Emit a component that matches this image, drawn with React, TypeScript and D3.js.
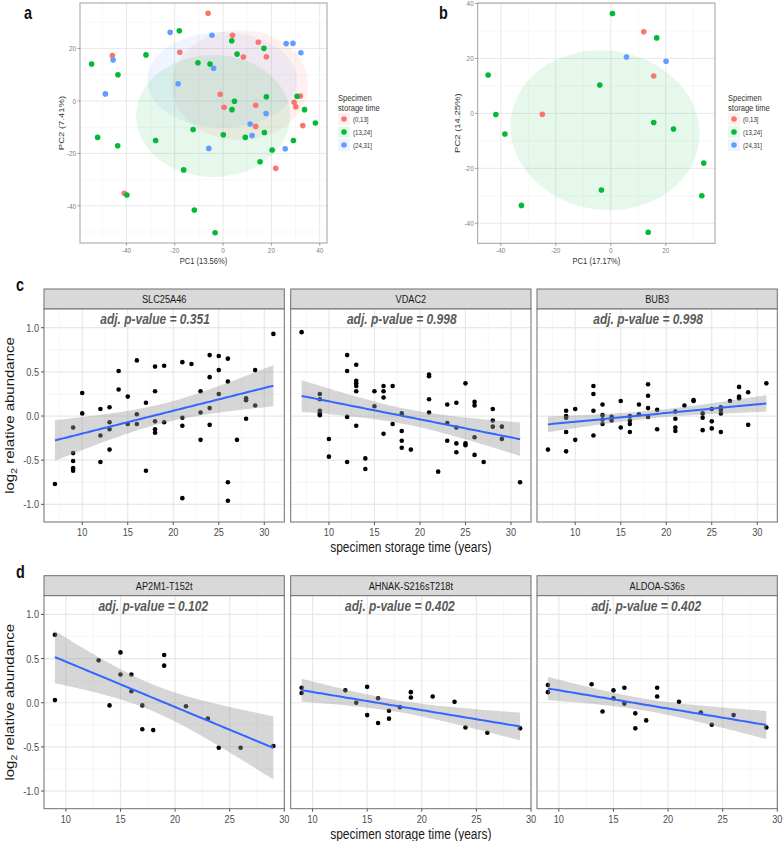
import React from 'react';
import * as d3 from 'd3';

// ---------------- data ----------------
const groups = ['(0,13]', '(13,24]', '(24,31]'];
const groupColors = ['#F8766D', '#00BA38', '#619CFF'];

// Panel a: PCA scores [PC1, PC2]
const aRed = [[-6.2,33.5],[3.9,25.1],[14.6,22.4],[8.4,16.8],[-45.8,17.3],[-17.9,18.6],[17.9,16.9],[-1.2,2.6],[0.4,-2.4],[13.5,-1.6],[13.5,-9.7],[32.0,1.9],[29.4,-0.5],[30.1,-2.2],[33.0,-9.4],[21.8,-25.7],[-40.9,-35.2]];
const aGreen = [[-18.1,26.8],[3.6,23.0],[5.8,17.9],[16.9,20.1],[-54.4,14.1],[-31.9,17.6],[-10.4,14.6],[-5.4,14.1],[-43.5,10.0],[4.7,-0.1],[3.7,-3.3],[17.9,1.6],[30.6,1.8],[33.7,-3.3],[38.2,-8.4],[-12.4,-10.9],[0.1,-12.9],[9.2,-13.9],[17.1,-12.0],[-51.9,-13.9],[-27.9,-15.1],[-43.6,-17.1],[29.1,-15.1],[20.3,-18.7],[15.3,-23.2],[-16.3,-26.3],[-39.8,-35.9],[-11.9,-41.6],[-3.3,-50.3]];
const aBlue = [[-21.9,26.2],[-4.6,25.1],[-45.5,15.6],[-3.9,12.5],[-18.6,6.6],[-48.7,2.7],[26.1,21.9],[28.9,22.0],[32.2,18.4],[11.2,-8.8],[12.0,-13.2],[17.8,-4.8],[-5.9,-18.1],[25.7,-18.2]];
// ellipses [group, cx, cy, rx, ry, angle]
const aEllipses = [[2, -0.4, 8.0, 31, 18.3, 0], [0, 7.0, 6.1, 28.2, 21, 0], [1, -4.1, -5.7, 31.9, 23.3, 0]];

// Panel b
const bRed = [[12.0,29.7],[15.6,13.6],[-24.9,-0.3]];
const bGreen = [[0.6,36.4],[16.7,27.5],[-44.6,14.0],[-4.0,10.3],[-41.8,-0.4],[15.6,-3.3],[22.8,-5.7],[-38.5,-7.5],[33.8,-18.1],[-3.4,-27.9],[-32.5,-33.5],[33.1,-30.0],[13.6,-43.3]];
const bBlue = [[5.7,20.5],[20.1,19.0]];
const bEllipses = [[1, -2.1, -6.1, 34.5, 29, 8]];

// Panel c (protein) : [storage years, log2 relative abundance]
const slc25a46 = [[7,-0.77],[9,-0.13],[9,-0.42],[9,-0.51],[9,-0.59],[9,-0.62],[10,0.26],[10,0.03],[12,0.08],[12,-0.22],[12,-0.52],[13,0.10],[13,-0.07],[13,-0.15],[13,-0.38],[14,0.51],[14,0.30],[15,0.22],[15,-0.09],[16,0.63],[16,0.02],[16,-0.09],[17,0.15],[17,-0.62],[18,0.56],[18,0.28],[18,-0.06],[18,-0.15],[18,-0.19],[19,0.57],[19,-0.07],[21,0.61],[21,-0.02],[21,-0.11],[21,-0.93],[22,0.59],[23,0.28],[23,0.04],[23,-0.27],[24,0.69],[24,0.44],[24,0.09],[24,-0.10],[25,0.68],[25,0.52],[25,0.25],[26,0.65],[26,0.39],[26,-0.75],[26,-0.96],[27,-0.27],[28,0.20],[28,0.18],[28,-0.03],[29,0.52],[29,0.12],[31,0.93]];
const vdac2 = [[7,0.95],[9,0.25],[9,0.19],[9,0.06],[9,0.03],[9,0.01],[10,-0.26],[10,-0.46],[12,0.69],[12,0.51],[12,-0.01],[12,-0.52],[13,0.58],[13,0.40],[13,0.37],[13,0.34],[13,0.28],[13,-0.11],[14,-0.48],[14,-0.60],[15,0.28],[15,0.11],[16,0.34],[16,0.28],[16,0.21],[16,-0.20],[17,0.34],[17,-0.09],[18,0.03],[18,-0.17],[18,-0.28],[18,-0.36],[19,-0.38],[21,0.47],[21,0.45],[21,0.19],[21,0.04],[22,-0.63],[23,0.13],[23,-0.08],[23,-0.28],[24,0.15],[24,-0.13],[24,-0.31],[24,-0.41],[25,0.37],[25,-0.31],[25,-0.33],[26,0.16],[26,0.12],[26,-0.24],[26,-0.44],[27,-0.52],[28,0.08],[28,-0.05],[28,-0.12],[29,-0.12],[29,-0.26],[31,-0.75]];
const bub3 = [[7,-0.38],[9,0.06],[9,0.00],[9,-0.02],[9,-0.18],[9,-0.40],[10,0.08],[10,-0.27],[12,0.34],[12,0.25],[12,0.06],[12,-0.22],[13,0.13],[13,0.01],[13,-0.04],[13,-0.09],[14,-0.01],[14,-0.05],[15,0.17],[15,-0.13],[16,0.00],[16,-0.05],[16,-0.09],[16,-0.18],[17,0.13],[17,0.02],[18,0.36],[18,0.23],[18,0.09],[18,-0.01],[19,0.07],[19,-0.15],[21,0.05],[21,-0.03],[21,-0.13],[21,-0.17],[22,0.12],[23,0.18],[23,0.17],[24,0.03],[24,-0.02],[24,-0.16],[25,0.08],[25,-0.06],[25,-0.14],[26,0.10],[26,0.07],[26,0.03],[26,-0.18],[27,0.17],[28,0.33],[28,0.22],[28,0.20],[29,0.27],[29,-0.10],[31,0.37]];

// Panel d (phosphosites)
const ap2m1 = [[9,0.77],[9,0.03],[13,0.48],[14,-0.03],[15,0.57],[15,0.32],[16,0.32],[16,0.13],[17,-0.03],[17,-0.30],[18,-0.31],[19,0.54],[19,0.42],[21,-0.04],[23,-0.18],[24,-0.51],[26,-0.51],[29,-0.49]];
const ahnak = [[9,0.17],[9,0.11],[13,0.14],[14,0.00],[15,0.18],[15,-0.14],[16,0.05],[16,-0.23],[17,-0.09],[17,-0.18],[18,-0.05],[19,0.12],[19,0.06],[21,0.07],[23,0.01],[24,-0.28],[26,-0.34],[29,-0.29]];
const aldoa = [[9,0.20],[9,0.12],[13,0.21],[14,-0.10],[15,0.14],[15,0.05],[16,0.17],[16,-0.01],[17,-0.12],[17,-0.29],[18,-0.20],[19,0.17],[19,0.07],[21,0.01],[23,-0.11],[24,-0.25],[26,-0.14],[29,-0.28]];

const cNames = ['SLC25A46', 'VDAC2', 'BUB3'];
const cPvals = ['0.351', '0.998', '0.998'];
const dNames = ['AP2M1-T152t', 'AHNAK-S216sT218t', 'ALDOA-S36s'];
const dPvals = ['0.102', '0.402', '0.402'];

const pcaTicks = [-40, -20, 0, 20, 40];
const facetYTicks = [-1.0, -0.5, 0.0, 0.5, 1.0];
const facetXTicks = [10, 15, 20, 25, 30];

// ---------------- helpers ----------------
const FONT = "'Liberation Sans', Arial, Helvetica, sans-serif";
const SX = 0.8; // horizontal squeeze of the original figure

function HT({ x, y, size, anchor = 'start', fill = '#1A1A1A', weight = 'normal', italic = false, children }: any) {
  return (
    <text transform={`translate(${x},${y}) scale(${SX},1)`} fontSize={size} textAnchor={anchor} fill={fill}
      fontWeight={weight} fontStyle={italic ? 'italic' : 'normal'} fontFamily={FONT}>{children}</text>
  );
}
function VT({ x, y, size, fill = '#1A1A1A', children }: any) {
  return (
    <text transform={`translate(${x},${y}) rotate(-90) scale(1,${SX})`} fontSize={size} textAnchor="middle" fill={fill} fontFamily={FONT}>{children}</text>
  );
}

function tQuant(df: number) {
  const z = 1.959964;
  return z + (z ** 3 + z) / (4 * df) + (5 * z ** 5 + 16 * z ** 3 + 3 * z) / (96 * df * df) +
    (3 * z ** 7 + 19 * z ** 5 + 17 * z ** 3 - 15 * z) / (384 * df ** 3);
}

function lmFit(pts: number[][]) {
  const n = pts.length;
  const xm = d3.mean(pts, p => p[0])!;
  const ym = d3.mean(pts, p => p[1])!;
  const sxx = d3.sum(pts, p => (p[0] - xm) ** 2);
  const sxy = d3.sum(pts, p => (p[0] - xm) * (p[1] - ym));
  const b = sxy / sxx;
  const a = ym - b * xm;
  const rss = d3.sum(pts, p => (p[1] - a - b * p[0]) ** 2);
  const s = Math.sqrt(rss / (n - 2));
  const t = tQuant(n - 2);
  const [x0, x1] = d3.extent(pts, p => p[0]) as [number, number];
  const xs = d3.range(0, 81).map(i => x0 + (x1 - x0) * i / 80);
  return xs.map(x => {
    const yh = a + b * x;
    const se = s * Math.sqrt(1 / n + (x - xm) ** 2 / sxx);
    return { x, y: yh, lo: yh - t * se, hi: yh + t * se };
  });
}

type PcaProps = {
  series: number[][][]; ellipses: number[][]; xDom: number[]; yDom: number[];
  box: { l: number; r: number; t: number; b: number };
  xTicks: number[]; yTicks: number[]; xLabel: string; yLabel: string; yLabelX: number;
  legendX: number; tag: string; tagX: number;
};

function PcaPanel(p: PcaProps) {
  const x = d3.scaleLinear().domain(p.xDom).range([p.box.l, p.box.r]);
  const y = d3.scaleLinear().domain(p.yDom).range([p.box.b, p.box.t]);
  const minorX = d3.range(-50, 51, 20).filter(v => v > p.xDom[0] && v < p.xDom[1]);
  const minorY = d3.range(-50, 51, 20).filter(v => v > p.yDom[0] && v < p.yDom[1]);
  const majX = p.xTicks.filter(v => v >= p.xDom[0] && v <= p.xDom[1]);
  const majY = p.yTicks.filter(v => v >= p.yDom[0] && v <= p.yDom[1]);
  const sx = x(1) - x(0);
  const sy = y(0) - y(1);
  return (
    <g fontFamily={FONT}>
      <HT x={p.tagX} y={19} size={18} weight="bold" fill="#111">{p.tag}</HT>
      <rect x={p.box.l} y={p.box.t} width={p.box.r - p.box.l} height={p.box.b - p.box.t} fill="#fff" />
      {minorX.map(v => <line key={'mx' + v} x1={x(v)} x2={x(v)} y1={p.box.t} y2={p.box.b} stroke="#F2F2F2" strokeWidth={0.6} />)}
      {minorY.map(v => <line key={'my' + v} y1={y(v)} y2={y(v)} x1={p.box.l} x2={p.box.r} stroke="#F2F2F2" strokeWidth={0.6} />)}
      {majX.map(v => <line key={'gx' + v} x1={x(v)} x2={x(v)} y1={p.box.t} y2={p.box.b} stroke="#E8E8E8" strokeWidth={1} />)}
      {majY.map(v => <line key={'gy' + v} y1={y(v)} y2={y(v)} x1={p.box.l} x2={p.box.r} stroke="#E8E8E8" strokeWidth={1} />)}
      {p.ellipses.map((e, i) => (
        <ellipse key={'e' + i} cx={x(e[1])} cy={y(e[2])} rx={e[3] * sx} ry={e[4] * sy}
          transform={`rotate(${e[5]},${x(e[1])},${y(e[2])})`}
          fill={groupColors[e[0]]} fillOpacity={0.1} stroke="none" />
      ))}
      {p.series.map((s, gi) => s.map((pt, i) => (
        <circle key={gi + '-' + i} cx={x(pt[0])} cy={y(pt[1])} r={2.8} fill={groupColors[gi]} />
      )))}
      <rect x={p.box.l} y={p.box.t} width={p.box.r - p.box.l} height={p.box.b - p.box.t} fill="none" stroke="#A0A0A0" strokeWidth={1} />
      {majX.map(v => (
        <g key={'tx' + v}>
          <line x1={x(v)} x2={x(v)} y1={p.box.b} y2={p.box.b + 2.5} stroke="#999" />
          <HT x={x(v)} y={p.box.b + 9.5} size={8} fill="#808080" anchor="middle">{v}</HT>
        </g>
      ))}
      {majY.map(v => (
        <g key={'ty' + v}>
          <line x1={p.box.l - 2.5} x2={p.box.l} y1={y(v)} y2={y(v)} stroke="#999" />
          <HT x={p.box.l - 4} y={y(v) + 2.8} size={8} fill="#808080" anchor="end">{v}</HT>
        </g>
      ))}
      <HT x={(p.box.l + p.box.r) / 2} y={p.box.b + 20.5} size={9.5} fill="#333" anchor="middle">{p.xLabel}</HT>
      <VT x={p.yLabelX} y={(p.box.t + p.box.b) / 2} size={9.5} fill="#333">{p.yLabel}</VT>
      <g>
        <HT x={p.legendX} y={101} size={9.5} fill="#333">Specimen</HT>
        <HT x={p.legendX} y={111} size={9.5} fill="#333">storage time</HT>
        {groups.map((g, i) => (
          <g key={g}>
            <rect x={p.legendX} y={113 + i * 13} width={12} height={12} fill={groupColors[i]} fillOpacity={0.1} />
            <circle cx={p.legendX + 6} cy={119 + i * 13} r={2.8} fill={groupColors[i]} />
            <HT x={p.legendX + 15} y={121.7 + i * 13} size={7.6} fill="#333">{g}</HT>
          </g>
        ))}
      </g>
    </g>
  );
}

const facetLefts = [44, 290.7, 537];
const facetW = 240.3;
const STRIP_H = 20;
const PANEL_H = 213;

type FacetProps = { name: string; pts: number[][]; pval: string; left: number; top: number; xDom: number[]; showY: boolean };

function Facet(p: FacetProps) {
  const pTop = p.top + STRIP_H;
  const pBot = pTop + PANEL_H;
  const x = d3.scaleLinear().domain(p.xDom).range([p.left, p.left + facetW]);
  const y = d3.scaleLinear().domain([-1.2, 1.212]).range([pBot, pTop]);
  const minorX = d3.range(7.5, 33, 5).filter(v => v > p.xDom[0] && v < p.xDom[1]);
  const minorY = [-0.75, -0.25, 0.25, 0.75];
  const majX = facetXTicks.filter(v => v >= p.xDom[0] - 1e-6 && v <= p.xDom[1] + 1e-6);
  const fit = lmFit(p.pts);
  const band = d3.area<any>().x(d => x(d.x)).y0(d => y(d.lo)).y1(d => y(d.hi));
  const line = d3.line<any>().x(d => x(d.x)).y(d => y(d.y));
  return (
    <g fontFamily={FONT}>
      <rect x={p.left} y={p.top} width={facetW} height={STRIP_H} fill="#D9D9D9" stroke="#6E6E6E" strokeWidth={1} />
      <HT x={p.left + facetW / 2} y={p.top + 14.2} size={11.5} fill="#1A1A1A" anchor="middle">{p.name}</HT>
      <rect x={p.left} y={pTop} width={facetW} height={PANEL_H} fill="#fff" />
      {minorX.map(v => <line key={'mx' + v} x1={x(v)} x2={x(v)} y1={pTop} y2={pBot} stroke="#F2F2F2" strokeWidth={0.7} />)}
      {minorY.map(v => <line key={'my' + v} y1={y(v)} y2={y(v)} x1={p.left} x2={p.left + facetW} stroke="#F2F2F2" strokeWidth={0.7} />)}
      {majX.map(v => <line key={'gx' + v} x1={x(v)} x2={x(v)} y1={pTop} y2={pBot} stroke="#E8E8E8" strokeWidth={1.2} />)}
      {facetYTicks.map(v => <line key={'gy' + v} y1={y(v)} y2={y(v)} x1={p.left} x2={p.left + facetW} stroke="#E8E8E8" strokeWidth={1.2} />)}
      {p.pts.map((pt, i) => <circle key={i} cx={x(pt[0])} cy={y(pt[1])} r={2.3} fill="#000" />)}
      <path d={band(fit) || ''} fill="#999999" fillOpacity={0.4} stroke="none" />
      <path d={line(fit) || ''} fill="none" stroke="#3366FF" strokeWidth={2} />
      <HT x={x(18)} y={y(1.1) + 5.2} size={15} weight="bold" italic fill="#5A5A5A" anchor="middle">{`adj. p-value = ${p.pval}`}</HT>
      <rect x={p.left} y={pTop} width={facetW} height={PANEL_H} fill="none" stroke="#6E6E6E" strokeWidth={1} />
      {majX.map(v => (
        <g key={'tx' + v}>
          <line x1={x(v)} x2={x(v)} y1={pBot} y2={pBot + 3} stroke="#555" />
          <HT x={x(v)} y={pBot + 14} size={11.5} fill="#4D4D4D" anchor="middle">{v}</HT>
        </g>
      ))}
      {p.showY && facetYTicks.map(v => (
        <g key={'ty' + v}>
          <line x1={p.left - 3} x2={p.left} y1={y(v)} y2={y(v)} stroke="#555" />
          <HT x={p.left - 5} y={y(v) + 4} size={11.5} fill="#4D4D4D" anchor="end">{d3.format('.1f')(v).replace('−', '-')}</HT>
        </g>
      ))}
    </g>
  );
}

function FacetRow({ names, data, pvals, top, xDom, tag, tagY, xTitleY }: any) {
  const pTop = top + STRIP_H;
  return (
    <g>
      <HT x={16} y={tagY} size={18} weight="bold" fill="#111">{tag}</HT>
      {names.map((n: string, i: number) => (
        <Facet key={n} name={n} pts={data[i]} pval={pvals[i]} left={facetLefts[i]} top={top} xDom={xDom} showY={i === 0} />
      ))}
      <VT x={14} y={pTop + PANEL_H / 2} size={15} fill="#1A1A1A">
        log<tspan fontSize={10.5} dy={4}>2</tspan><tspan dy={-4}> relative abundance</tspan>
      </VT>
      <HT x={facetLefts[1] + facetW / 2} y={xTitleY} size={15} fill="#1A1A1A" anchor="middle">specimen storage time (years)</HT>
    </g>
  );
}

export default function App() {
  return (
    <svg width={784} height={841} style={{ position: 'absolute', left: 0, top: 0, background: '#fff' }}>
      <rect width={784} height={841} fill="#fff" />
      <PcaPanel series={[aRed, aGreen, aBlue]} ellipses={aEllipses} xDom={[-59.2, 43]} yDom={[-54.2, 37.4]}
        box={{ l: 80, r: 327, t: 3, b: 243 }} xTicks={pcaTicks} yTicks={pcaTicks}
        xLabel="PC1 (13.56%)" yLabel="PC2 (7.41%)" yLabelX={64} legendX={338} tag="a" tagX={24} />
      <PcaPanel series={[bRed, bGreen, bBlue]} ellipses={bEllipses} xDom={[-48.4, 37.9]} yDom={[-47.3, 40.2]}
        box={{ l: 477.7, r: 715, t: 3, b: 243.3 }} xTicks={pcaTicks} yTicks={pcaTicks}
        xLabel="PC1 (17.17%)" yLabel="PC2 (14.25%)" yLabelX={460} legendX={728} tag="b" tagX={439} />
      <FacetRow names={cNames} data={[slc25a46, vdac2, bub3]} pvals={cPvals} top={289} xDom={[5.8, 32.2]}
        tag="c" tagY={291} xTitleY={552} />
      <FacetRow names={dNames} data={[ap2m1, ahnak, aldoa]} pvals={dPvals} top={575.7} xDom={[8, 30]}
        tag="d" tagY={578} xTitleY={838.5} />
    </svg>
  );
}
